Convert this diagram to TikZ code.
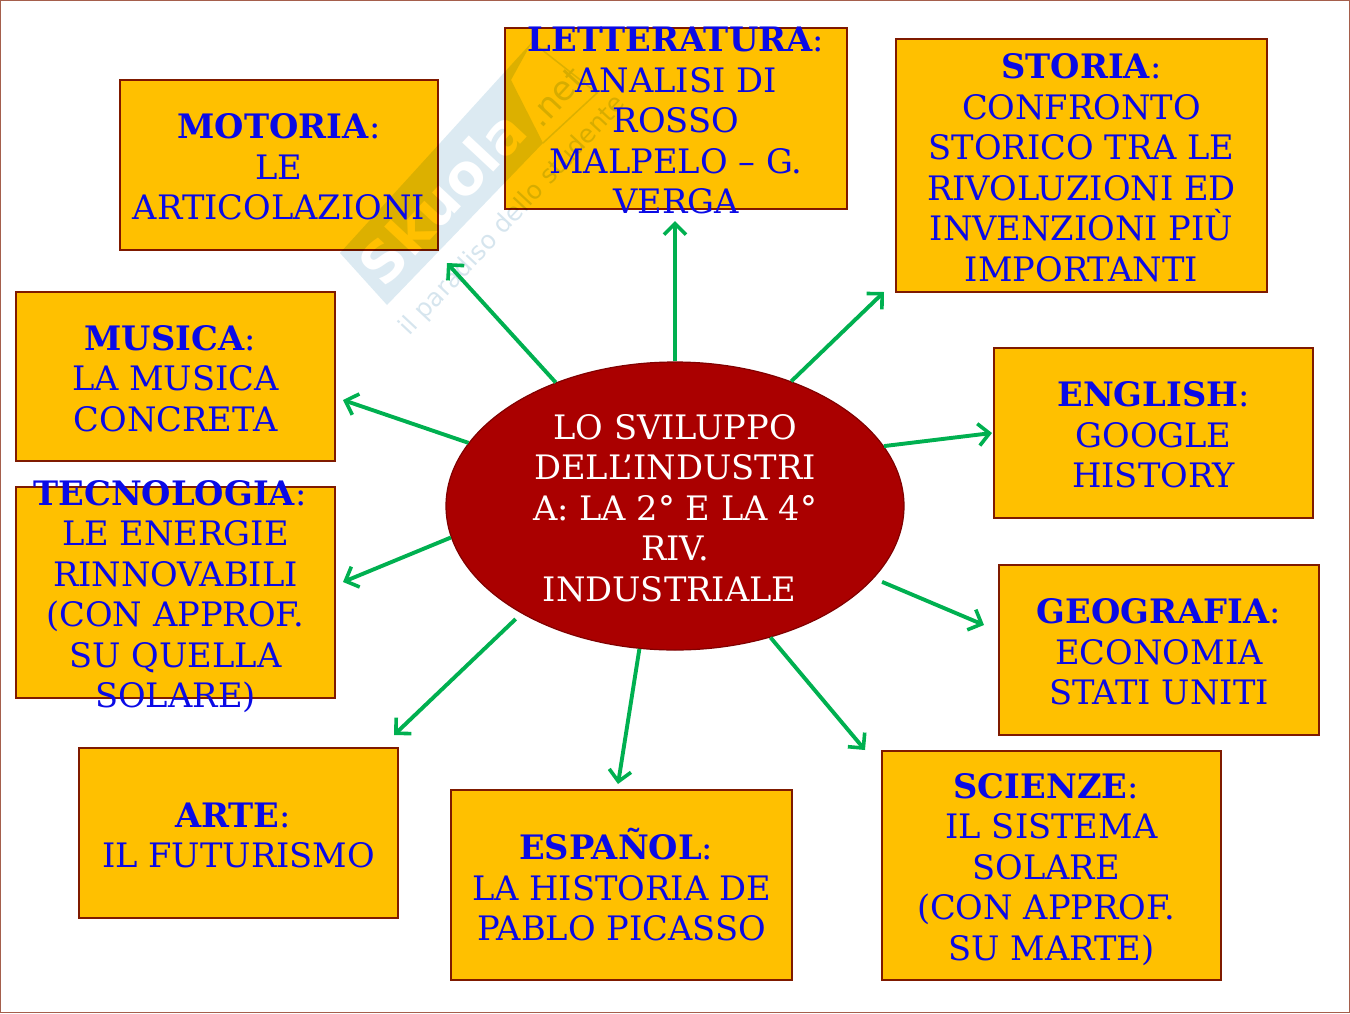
\documentclass[tikz,border=0pt]{standalone}
\usepackage{fontspec}
\setmainfont{DejaVu Serif}
\newfontfamily\wmfont{DejaVu Sans}
\usetikzlibrary{arrows.meta,shapes.geometric}
\definecolor{boxfill}{HTML}{FFC000}
\definecolor{boxline}{HTML}{7F1A00}
\definecolor{hubfill}{HTML}{AA0000}
\definecolor{hubline}{HTML}{800000}
\definecolor{flowgreen}{HTML}{00B050}
\definecolor{labelblue}{HTML}{0A0AE6}
\definecolor{wmband}{HTML}{DCEAF2}
\definecolor{wmtext}{HTML}{D6E5EE}
\begin{document}
\begin{tikzpicture}[x=1pt,y=-1pt]
% first-line struts (push the text a little below the centre)
\def\lowA{\rule{0pt}{29pt}}
\def\lowB{\rule{0pt}{33pt}}

% styles
\tikzset{
  subject/.style={draw=boxline,fill=boxfill,line width=1.6pt,inner xsep=0pt,inner ysep=-20pt,align=center,
    text=labelblue,font=\fontsize{33.7}{40.5}\selectfont},
  caption/.style={inner sep=0pt,align=center,text=labelblue,font=\fontsize{33.7}{40.5}\selectfont},
  hub/.style={ellipse,draw=hubline,fill=hubfill,line width=1.2pt,inner sep=0pt,align=center,
    text=white,font=\fontsize{33.7}{40.5}\selectfont},
  flow/.style={draw=flowgreen,line width=3.9pt,-{Straight Barb[length=11pt,width=22pt,line width=3.6pt]}},
  wmark/.style={rotate=47,inner sep=0pt}
}
\useasboundingbox (0,0) rectangle (1350,1013);
\draw[boxline!70,line width=1.5pt] (0.5,0.5) rectangle (1349.5,1012.5);

% ----- watermark -----
\fill[wmband] (340,253) -- (532,42) -- (511,80) -- (543,143) -- (387,305) -- cycle;
\draw[wmband,line width=1.5pt] (532,42) -- (597,93) -- (543,143);
\node[wmark,text=white,font=\wmfont\bfseries\fontsize{56}{56}\selectfont] (wmName) at (442,197) {Skuola};
\node[wmark,text=wmtext,font=\wmfont\fontsize{34}{34}\selectfont] (wmNet) at (556,97) {.net};
\node[wmark,text=wmtext,font=\wmfont\fontsize{25}{25}\selectfont] (wmMotto) at (513,216) {il paradiso dello studente};

% ----- the two boxes lying on the watermark -----
\begin{scope}[blend mode=multiply]
\node[subject,minimum width=318pt,minimum height=170pt] (motoria) at (279,165) {};
\node[subject,minimum width=342pt,minimum height=181pt] (letteratura) at (676,118.5) {};
\end{scope}
\node[caption] (motoriaText) at (motoria)
  {\lowA\textbf{MOTORIA}:\\LE\\ARTICOLAZIONI};
\node[caption] (letteraturaText) at (letteratura)
  {\lowA\textbf{LETTERATURA}:\\ANALISI DI\\ROSSO\\MALPELO – G.\\VERGA};

% ----- subject boxes -----
\node[subject,minimum width=371pt,minimum height=253pt] (storia) at (1081.5,165.5)
  {\lowA\textbf{STORIA}:\\CONFRONTO\\STORICO TRA LE\\RIVOLUZIONI ED\\INVENZIONI PIÙ\\IMPORTANTI};
\node[subject,minimum width=319pt,minimum height=170pt] (english) at (1153.5,433)
  {\lowA\textbf{ENGLISH}:\\GOOGLE\\HISTORY};
\node[subject,minimum width=320pt,minimum height=170pt] (geografia) at (1159,650)
  {\lowA\textbf{GEOGRAFIA}:\\ECONOMIA\\STATI UNITI};
\node[subject,minimum width=339pt,minimum height=229pt] (scienze) at (1051.5,865.5)
  {\lowB\textbf{SCIENZE}:~~\\IL SISTEMA\\SOLARE~~\\(CON APPROF.~~\\SU MARTE)};
\node[subject,minimum width=341pt,minimum height=190pt] (espanol) at (621.5,885)
  {\textbf{ESPAÑOL}:~~\\LA HISTORIA DE\\PABLO PICASSO};
\node[subject,minimum width=319pt,minimum height=170pt] (arte) at (238.5,833)
  {\lowA\textbf{ARTE}:~~\\IL FUTURISMO};
\node[subject,minimum width=319pt,minimum height=211pt] (tecnologia) at (175.5,592.5)
  {\lowB\textbf{TECNOLOGIA}:~~\\LE ENERGIE\\RINNOVABILI\\(CON APPROF.\\SU QUELLA\\SOLARE)};
\node[subject,minimum width=319pt,minimum height=169pt] (musica) at (175.5,376.5)
  {\lowA\textbf{MUSICA}:~~\\LA MUSICA\\CONCRETA};

% ----- centre -----
\node[hub,minimum width=458pt,minimum height=288pt] (centre) at (675,506)
  {\lowA LO SVILUPPO\\DELL’INDUSTRI\\A: LA 2° E LA 4°\\RIV.\\INDUSTRIALE~~};

% ----- arrow ends (they stop short of the boxes) -----
\coordinate (tipMotoria) at (447,263);
\coordinate (tipLetteratura) at (675,221);
\coordinate (tipStoria) at (884,292);
\coordinate (tipEnglish) at (992,433);
\coordinate (tipGeografia) at (984,625);
\coordinate (tipScienze) at (865,750);
\coordinate (tipEspanol) at (618,784);
\coordinate (tipArte) at (394,735);
\coordinate (tipTecnologia) at (343,582);
\coordinate (tipMusica) at (343,400);

% ----- arrows -----
\draw[flow] (centre.134) -- (tipMotoria);
\draw[flow] (centre.90) -- (tipLetteratura);
\draw[flow] (centre.47) -- (tipStoria);
\draw[flow] (centre.16.4) -- (tipEnglish);
\draw[flow,shorten <=9pt] (centre.-20) -- (tipGeografia);
\draw[flow] (centre.-54.4) -- (tipScienze);
\draw[flow] (centre.256.7) -- (tipEspanol);
\draw[flow,shorten <=8pt] (centre.215.2) -- (tipArte);
\draw[flow] (centre.188.4) -- (tipTecnologia);
\draw[flow] (centre.163.2) -- (tipMusica);
\end{tikzpicture}
\end{document}
